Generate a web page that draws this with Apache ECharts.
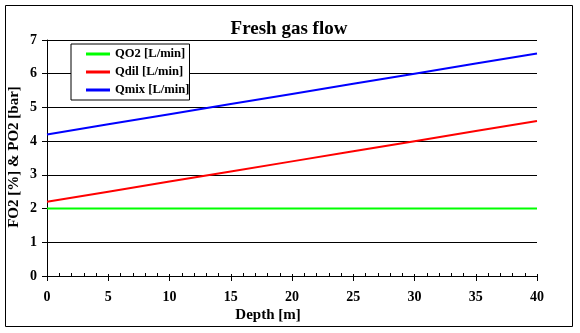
<!DOCTYPE html>
<html>
<head>
<meta charset="utf-8">
<script src="https://cdn.jsdelivr.net/npm/echarts@6/dist/echarts.min.js"></script>
<style>
  html, body { margin: 0; padding: 0; background: #fff; }
  #chart { width: 580px; height: 333px; }
</style>
</head>
<body>
<div id="chart"></div>
<script>
// Depth steps [m] and flows for each gas
const depths = [0, 5, 10, 15, 20, 25, 30, 35, 40];
const qO2  = [2.0, 2.0, 2.0, 2.0, 2.0, 2.0, 2.0, 2.0, 2.0];
const qDil = [2.2, 2.5, 2.8, 3.1, 3.4, 3.7, 4.0, 4.3, 4.6];
const qMix = [4.2, 4.5, 4.8, 5.1, 5.4, 5.7, 6.0, 6.3, 6.6];

const seriesNames = ['QO2 [L/min]', 'Qdil [L/min]', 'Qmix [L/min]'];
const seriesColors = ['#00ff00', '#ff0000', '#0000ff'];
const seriesValues = [qO2, qDil, qMix];

const FONT = '"Liberation Serif", "Times New Roman", serif';

const chart = echarts.init(document.getElementById('chart'), null, { renderer: 'canvas' });

const pairs = (vals) => depths.map((d, i) => [d, vals[i]]);

chart.setOption({
  animation: false,
  backgroundColor: '#ffffff',
  title: {
    text: 'Fresh gas flow',
    left: 284,
    top: 15,
    textAlign: 'center',
    textStyle: { fontFamily: FONT, fontWeight: 'bold', fontSize: 19, color: '#000' }
  },
  grid: { left: 47, right: 43, top: 40, bottom: 57, containLabel: false },
  legend: {
    orient: 'vertical',
    left: 71,
    top: 44,
    padding: [3, 0, 3, 15],
    itemGap: 4,
    itemWidth: 24,
    itemHeight: 3,
    borderColor: '#000',
    borderWidth: 1,
    backgroundColor: '#fff',
    icon: 'rect',
    data: seriesNames,
    textStyle: { fontFamily: FONT, fontWeight: 'bold', fontSize: 12.6, color: '#000', lineHeight: 14 }
  },
  xAxis: [{
    type: 'value',
    min: 0,
    max: 40,
    interval: 5,
    axisLine: { lineStyle: { color: '#000', width: 1 } },
    axisTick: { show: true, inside: false, length: 5, lineStyle: { color: '#000' } },
    axisLabel: { margin: 14, fontFamily: FONT, fontWeight: 'bold', fontSize: 14, color: '#000' },
    splitLine: { show: false }
  }, {
    type: 'value',
    min: 0,
    max: 40,
    interval: 5,
    position: 'bottom',
    axisLine: { show: false },
    axisTick: { show: true, inside: true, length: 2, lineStyle: { color: '#000' } },
    minorTick: { show: true, splitNumber: 5, length: 3, lineStyle: { color: '#000' } },
    axisLabel: { show: false },
    splitLine: { show: false }
  }],
  yAxis: {
    type: 'value',
    min: 0,
    max: 7,
    interval: 1,
    axisLine: { show: true, lineStyle: { color: '#000', width: 1 } },
    axisTick: { show: true, inside: false, length: 5, lineStyle: { color: '#000' } },
    axisLabel: { margin: 10, fontFamily: FONT, fontWeight: 'bold', fontSize: 14, color: '#000' },
    splitLine: { show: true, lineStyle: { color: '#000', width: 1 } }
  },
  series: seriesNames.map((name, k) => ({
    name: name,
    type: 'line',
    xAxisIndex: 0,
    data: pairs(seriesValues[k]),
    showSymbol: false,
    symbol: 'none',
    color: seriesColors[k],
    lineStyle: { color: seriesColors[k], width: 2 },
    z: 3
  })),
  graphic: [
    {
      type: 'rect',
      shape: { x: 5.5, y: 5.5, width: 567, height: 321 },
      style: { fill: null, stroke: '#000', lineWidth: 1 },
      silent: true
    },
    {
      type: 'text',
      x: 268,
      y: 315,
      style: {
        text: 'Depth [m]',
        font: 'bold 15px ' + FONT,
        fill: '#000',
        align: 'center',
        verticalAlign: 'middle'
      }
    },
    {
      type: 'text',
      x: 14,
      y: 157,
      rotation: Math.PI / 2,
      style: {
        text: 'FO2 [%] & PO2 [bar]',
        font: 'bold 15px ' + FONT,
        fill: '#000',
        align: 'center',
        verticalAlign: 'middle'
      }
    }
  ]
});
</script>
</body>
</html>
